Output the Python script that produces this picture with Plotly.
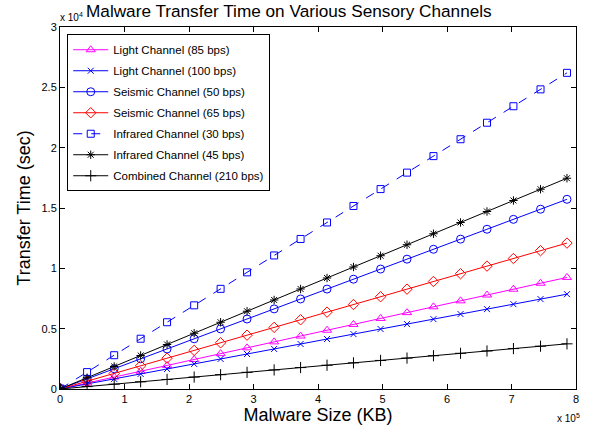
import plotly.graph_objects as go

# Malware size (KB)
sizes = [1000, 42000, 84000, 125000, 166000, 208000, 249000, 290000, 332000, 373000,
         414000, 455000, 497000, 538000, 579000, 621000, 662000, 703000, 745000, 786000]

light85 = [12, 494, 988, 1471, 1953, 2447, 2929, 3412, 3906, 4388,
           4871, 5353, 5847, 6329, 6812, 7306, 7788, 8271, 8765, 9247]
light100 = [10, 420, 840, 1250, 1660, 2080, 2490, 2900, 3320, 3730,
            4140, 4550, 4970, 5380, 5790, 6210, 6620, 7030, 7450, 7860]
seismic50 = [20, 840, 1680, 2500, 3320, 4160, 4980, 5800, 6640, 7460,
             8280, 9100, 9940, 10760, 11580, 12420, 13240, 14060, 14900, 15720]
seismic65 = [15, 646, 1292, 1923, 2554, 3200, 3831, 4462, 5108, 5738,
             6369, 7000, 7646, 8277, 8908, 9554, 10185, 10815, 11462, 12092]
infrared30 = [33, 1400, 2800, 4167, 5533, 6933, 8300, 9667, 11067, 12433,
              13800, 15167, 16567, 17933, 19300, 20700, 22067, 23433, 24833, 26200]
infrared45 = [22, 933, 1867, 2778, 3689, 4622, 5533, 6444, 7378, 8289,
              9200, 10111, 11044, 11956, 12867, 13800, 14711, 15622, 16556, 17467]
combined210 = [5, 200, 400, 595, 790, 990, 1186, 1381, 1581, 1776,
               1971, 2167, 2367, 2562, 2757, 2957, 3152, 3348, 3548, 3743]

x_tick_vals = [0, 100000, 200000, 300000, 400000, 500000, 600000, 700000, 800000]
x_tick_text = ["0", "1", "2", "3", "4", "5", "6", "7", "8"]
y_tick_vals = [0, 5000, 10000, 15000, 20000, 25000, 30000]
y_tick_text = ["0", "0.5", "1", "1.5", "2", "2.5", "3"]

series = [
    ("Light Channel (85 bps)", light85, "#ff00ff", "triangle-up-open", "solid", 8),
    ("Light Channel (100 bps)", light100, "#0000ff", "x-thin-open", "solid", 6),
    ("Seismic Channel (50 bps)", seismic50, "#0000ff", "circle-open", "solid", 8),
    ("Seismic Channel (65 bps)", seismic65, "#ff0000", "diamond-open", "solid", 8),
    ("Infrared Channel (30 bps)", infrared30, "#0000ff", "square-open", "dash", 7),
    ("Infrared Channel (45 bps)", infrared45, "#000000", "asterisk-open", "solid", 7),
    ("Combined Channel (210 bps)", combined210, "#000000", "cross-thin-open", "solid", 8),
]

FONT = "Liberation Sans, Arial, Helvetica, sans-serif"

fig = go.Figure()
for i, (name, ys, color, sym, dash, ms) in enumerate(series):
    fig.add_trace(go.Scatter(
        x=sizes, y=ys, name=name, mode="lines+markers", legendgroup=f"g{i}",
        line=dict(color=color, width=1, dash=dash),
        marker=dict(symbol=sym, size=ms, color=color, line=dict(color=color, width=1)),
    ))

axis_common = dict(
    showline=True, linecolor="black", linewidth=1, mirror="ticks",
    ticks="inside", ticklen=5, tickcolor="black", showgrid=False, zeroline=False,
    tickfont=dict(family=FONT, size=11, color="black"),
)

fig.update_xaxes(range=[0, 800000], tickvals=x_tick_vals, ticktext=x_tick_text,
                 title=dict(text="Malware Size (KB)", font=dict(family=FONT, size=18, color="black"), standoff=0),
                 **axis_common)
fig.update_yaxes(range=[0, 30000], tickvals=y_tick_vals, ticktext=y_tick_text,
                 title=dict(text="Transfer Time (sec)", font=dict(family=FONT, size=18, color="black"), standoff=6),
                 **axis_common)

fig.update_layout(
    width=593, height=430,
    margin=dict(l=60, r=17, t=27, b=39),
    paper_bgcolor="white", plot_bgcolor="white",
    font=dict(family=FONT, color="black"),
    showlegend=True,
    legend=dict(x=0.014, y=0.98, xanchor="left", yanchor="top",
                bgcolor="white", bordercolor="black", borderwidth=1,
                font=dict(family=FONT, size=11.5, color="black"),
                itemwidth=35, tracegroupgap=2),
    annotations=[
        dict(text="Malware Transfer Time on Various Sensory Channels", xref="paper", yref="paper",
             x=0.444, y=1.0, xanchor="center", yanchor="bottom", yshift=4, showarrow=False,
             font=dict(family=FONT, size=17.2, color="black")),
        dict(text="x 10<sup>4</sup>", xref="paper", yref="paper", x=0.0, y=1.0,
             xanchor="left", yanchor="bottom", xshift=-2, yshift=2, showarrow=False,
             font=dict(family=FONT, size=10, color="black")),
        dict(text="x 10<sup>5</sup>", xref="paper", yref="paper", x=1.0, y=0.0,
             xanchor="right", yanchor="top", xshift=6, yshift=-21, showarrow=False,
             font=dict(family=FONT, size=10, color="black")),
    ],
)

fig.write_html("out.html", config={"displayModeBar": False},
               post_script="document.body.style.margin='0';")
